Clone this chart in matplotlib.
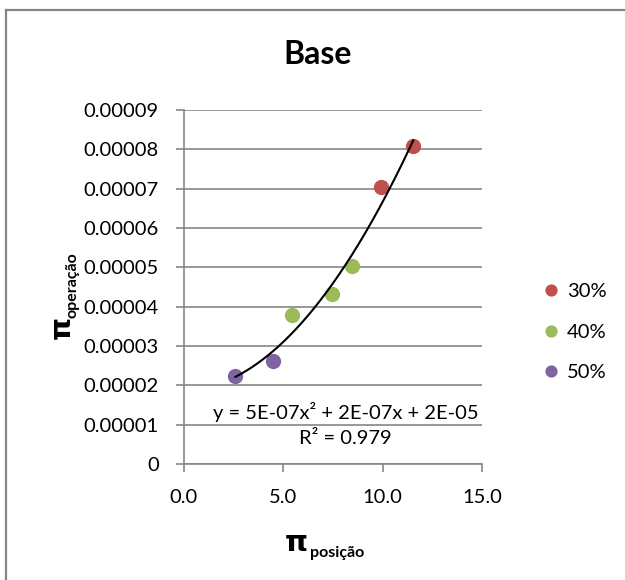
import numpy as np
import matplotlib
matplotlib.use("Agg")
import matplotlib.pyplot as plt
from matplotlib.lines import Line2D
from matplotlib.ticker import FuncFormatter, MultipleLocator

plt.rcParams['font.family'] = ['Lato', 'DejaVu Sans']

# ---- data ----
series_names = ['30%', '40%', '50%']
x_30 = [11.54, 9.92]
y_30 = [8.09e-5, 7.03e-5]
x_40 = [8.46, 7.45, 5.45]
y_40 = [5.04e-5, 4.33e-5, 3.79e-5]
x_50 = [4.50, 2.59]
y_50 = [2.62e-5, 2.23e-5]
colors = ['#C0504D', '#9BBB59', '#8064A2']
title = 'Base'
eq_line = 'y = 5E-07x² + 2E-07x + 2E-05'
r2_line = 'R² = 0.979'
x_ticks = [0, 5, 10, 15]

W, H = 625, 580
fig = plt.figure(figsize=(W / 100, H / 100), dpi=100)
fig.patch.set_facecolor('white')

def fx(px):
    return px / W

def fy(py):
    return 1 - py / H

ax = fig.add_axes([fx(184), fy(464), fx(482) - fx(184), fy(110) - fy(464)])

grey = '#868686'
fs = 14.5

xs_all = [x_30, x_40, x_50]
ys_all = [y_30, y_40, y_50]
for xs, ys, c, n in zip(xs_all, ys_all, colors, series_names):
    ax.plot(xs, ys, linestyle='none', marker='o', markersize=11, color=c,
            markeredgewidth=0, label=n, zorder=3)

# polynomial (order 2) trendline
X = np.concatenate([np.array(v) for v in xs_all])
Y = np.concatenate([np.array(v) for v in ys_all])
coef = np.polyfit(X, Y, 2)
xx = np.linspace(X.min(), X.max(), 200)
ax.plot(xx, np.polyval(coef, xx), color='black', linewidth=1.5, zorder=4)

ax.set_xlim(0, 15)
ax.set_ylim(0, 9e-5)
ax.set_xticks(x_ticks)
ax.yaxis.set_major_locator(MultipleLocator(1e-5))
ax.xaxis.set_major_formatter(FuncFormatter(lambda v, p: f'{v:.1f}'))
ax.yaxis.set_major_formatter(FuncFormatter(lambda v, p: '0' if abs(v) < 1e-12 else f'{v:.5f}'))

for s in ['top', 'right']:
    ax.spines[s].set_visible(False)
for s in ['left', 'bottom']:
    ax.spines[s].set_color(grey)
    ax.spines[s].set_linewidth(1.2)
ax.tick_params(axis='both', which='major', direction='out', length=6,
               width=1.2, color=grey, labelsize=fs, labelcolor='black')
ax.tick_params(axis='y', pad=12)
ax.tick_params(axis='x', pad=12)
ax.grid(axis='y', color=grey, linewidth=1.2)
ax.set_axisbelow(True)

# equation text
ax.text(8.13, 1.32e-5, eq_line, ha='center', va='center', fontsize=fs, zorder=5)
ax.text(8.13, 0.66e-5, r2_line, ha='center', va='center', fontsize=fs, zorder=5)

# title
fig.text(fx(318), fy(55), title, ha='center', va='center', fontsize=23,
         fontweight='bold')

# x label: pi + subscript
fig.text(fx(308), fy(543), 'π', ha='right', va='center', fontsize=21,
         fontweight='bold', family=['DejaVu Sans'])
fig.text(fx(310), fy(553), 'posição', ha='left', va='center', fontsize=11.5,
         fontweight='bold')

# y label: rotated
fig.text(fx(62), fy(327), 'π', ha='center', va='center', fontsize=21,
         fontweight='bold', rotation=90, family=['DejaVu Sans'])
fig.text(fx(72), fy(318), 'operação', ha='center', va='bottom', fontsize=11.5,
         fontweight='bold', rotation=90)

# legend
leg = ax.legend(loc='center left', bbox_to_anchor=(fx(533), fy(332)),
                bbox_transform=fig.transFigure, frameon=False, fontsize=fs,
                handlelength=0.8, handletextpad=0.4, labelspacing=1.15,
                markerscale=0.8, borderpad=0)

# chart area border (top and left visible)
fig.add_artist(Line2D([fx(5.5), fx(W + 5)], [fy(10), fy(10)], color=grey,
                      linewidth=1.6, transform=fig.transFigure))
fig.add_artist(Line2D([fx(5.5), fx(5.5)], [fy(10), fy(H + 5)], color=grey,
                      linewidth=1.6, transform=fig.transFigure))

fig.savefig('out.png', dpi=100, facecolor='white')
